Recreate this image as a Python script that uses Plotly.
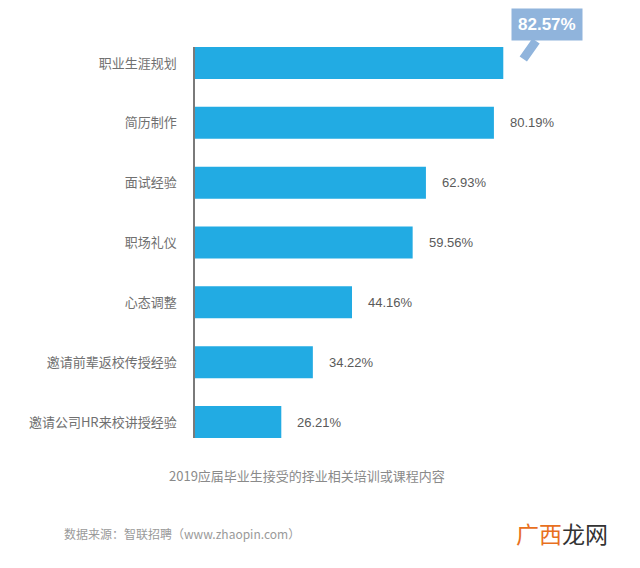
import plotly.graph_objects as go

categories = ["职业生涯规划", "简历制作", "面试经验", "职场礼仪", "心态调整", "邀请前辈返校传授经验", "邀请公司HR来校讲授经验"]
values = [82.57, 80.19, 62.93, 59.56, 44.16, 34.22, 26.21]
value_labels = ["82.57%", "80.19%", "62.93%", "59.56%", "44.16%", "34.22%", "26.21%"]
caption = "2019应届毕业生接受的择业相关培训或课程内容"
source = "数据来源：智联招聘（www.zhaopin.com）"

FONT = "Noto Sans CJK SC, Liberation Sans, sans-serif"
BAR = "#22abe3"
pad = 0.267

fig = go.Figure(go.Bar(
    x=values, y=categories, orientation="h",
    marker=dict(color=BAR, line=dict(width=0)),
    hoverinfo="skip",
))

annotations = []
for i, (v, c, t) in enumerate(zip(values, categories, value_labels)):
    if i == 0:
        annotations.append(dict(
            x=v, y=c, xref="x", yref="y", text="<b>" + t + "</b>",
            font=dict(family="Liberation Sans, Arial, sans-serif", size=17, color="white"),
            bgcolor="#90b4dc", borderpad=6,
            showarrow=True, arrowhead=0, arrowwidth=9, arrowcolor="#90b4dc",
            ax=24, ay=-34, xshift=20, yshift=4, standoff=0,
        ))
    else:
        annotations.append(dict(
            x=v, y=c, xref="x", yref="y", text=t, showarrow=False,
            xanchor="left", yanchor="middle", xshift=14,
            font=dict(family="Liberation Sans, Arial, sans-serif", size=13, color="#5a5a5a"),
        ))

annotations.append(dict(
    x=0, y=0, xref="paper", yref="paper", text=caption, showarrow=False,
    xanchor="center", yanchor="middle", xshift=112, yshift=-37,
    font=dict(family=FONT, size=13, color="#8a8a8a"),
))
annotations.append(dict(
    x=0, y=0, xref="paper", yref="paper", text=source, showarrow=False,
    xanchor="left", yanchor="middle", xshift=-133, yshift=-95,
    font=dict(family=FONT, size=12, color="#9a9a9a"),
))
annotations.append(dict(
    x=1, y=0, xref="paper", yref="paper",
    text="<span style='color:#e8701e'>广西</span><span style='color:#333333'>龙网</span>",
    showarrow=False, xanchor="right", yanchor="middle", xshift=-10, yshift=-95,
    font=dict(family=FONT, size=23),
))

# The page body has an 8px default margin, so the figure is drawn 8px smaller
# and offset, placing the plot area at the reference's pixel positions.
fig.update_layout(
    width=632, height=560,
    margin=dict(l=187, r=20, t=39, b=130, autoexpand=False),
    paper_bgcolor="white", plot_bgcolor="white",
    bargap=0.465, showlegend=False,
    annotations=annotations,
    xaxis=dict(range=[4.3, 112.2], visible=False, fixedrange=True, automargin=False),
    yaxis=dict(
        categoryorder="array", categoryarray=categories,
        range=[len(categories) - 1 + pad, -pad],
        showline=True, linecolor="#7a7a7a", linewidth=1.5,
        showgrid=False, zeroline=False, ticks="",
        ticklabelstandoff=14, automargin=False,
        tickfont=dict(family=FONT, size=13, color="#707070"),
        fixedrange=True,
    ),
)

fig.write_html("out.html")
